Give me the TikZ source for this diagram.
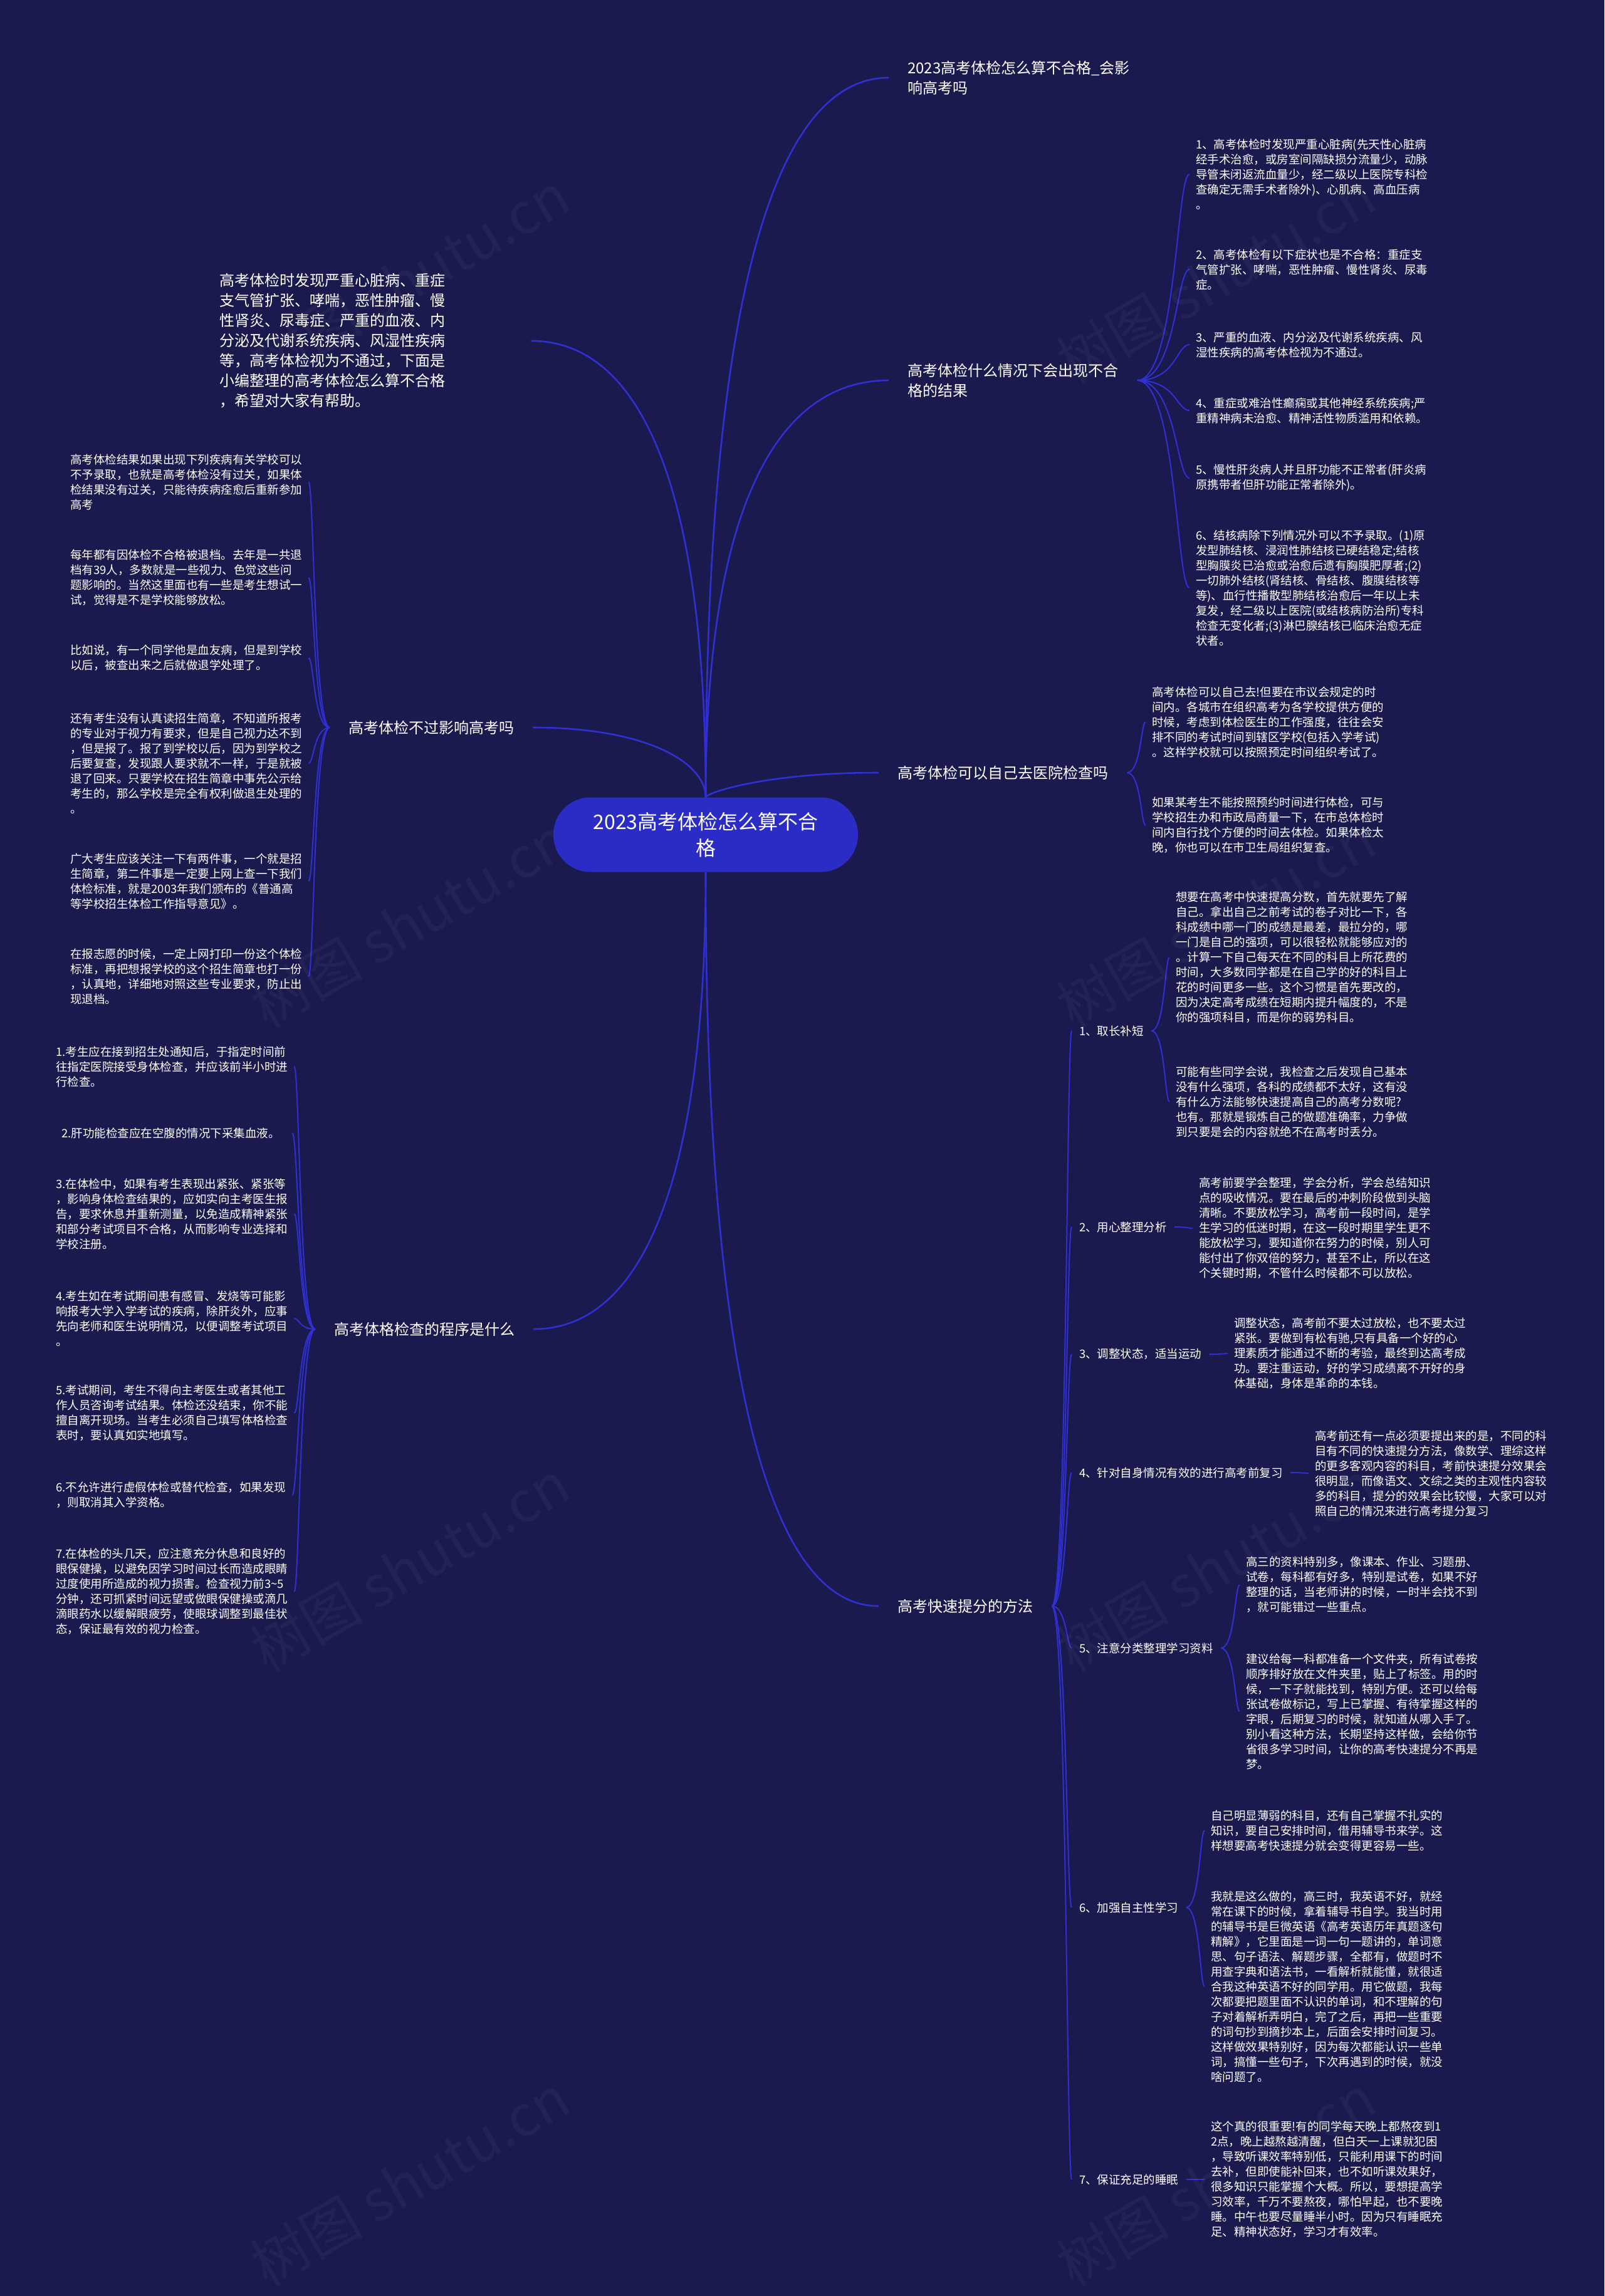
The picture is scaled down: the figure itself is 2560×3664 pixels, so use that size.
\documentclass[tikz,border=0pt]{standalone}
\usepackage{fontspec}
\newfontfamily\cjk{Noto Sans CJK SC}
\usetikzlibrary{calc}
\definecolor{bgnavy}{RGB}{27,26,78}
\definecolor{rootblue}{RGB}{43,43,198}
\definecolor{linkblue}{RGB}{48,48,210}
\pgfdeclarelayer{back}
\pgfsetlayers{back,main}
\tikzset{
  root/.style={fill=rootblue, text=white, rounded corners=59pt, minimum width=486pt,
    minimum height=119pt, align=center, font={\cjk\fontsize{32}{42}\selectfont}},
  branch/.style={anchor=west, text=white, align=left, inner xsep=30pt, inner ysep=4pt,
    font={\cjk\fontsize{24}{32}\selectfont}},
  sub/.style={anchor=west, text=white, align=left, inner xsep=12pt, inner ysep=4pt,
    font={\cjk\fontsize{18.5}{24}\selectfont}},
  leaf/.style={anchor=west, text=white, align=left, inner xsep=10pt, inner ysep=4pt,
    font={\cjk\fontsize{18.5}{24}\selectfont}},
  wmark/.style={text=white, opacity=0.035, rotate=30, font={\cjk\fontsize{90}{90}\selectfont}},
  trunk/.style={draw=linkblue, line width=2.6pt, to path={let \p1=(\tikztostart), \p2=(\tikztotarget) in
    .. controls (\x1,{\y1+0.667*(\y2-\y1)}) and ({\x1+0.333*(\x2-\x1)},\y2) .. (\tikztotarget)}},
  twig/.style={draw=linkblue, line width=2pt, to path={let \p1=(\tikztostart), \p2=(\tikztotarget) in
    .. controls ({\x1+0.75*(\x2-\x1)},\y1) and ({\x1+0.75*(\x2-\x1)},\y2) .. (\tikztotarget)}},
}

\begin{document}
\begin{tikzpicture}[x=1pt,y=-1pt]
\useasboundingbox (0,0) rectangle (2560,3664);

% watermarks
\foreach \wx in {654,1940}
  \foreach \wy in {444,1472,2500,3480}
    \node[wmark] (w\wx\wy) at (\wx,\wy) {树图 shutu.cn};

% centre
\node[root] (root) at (1126,1332) {2023高考体检怎么算不合\\格};

% right side
\node[branch] (r1) at (1418,124) {2023高考体检怎么算不合格\_会影\\响高考吗};

\node[branch] (r2) at (1418,607) {高考体检什么情况下会出现不合\\格的结果};
\node[leaf] (r2a) at (1898,278) {1、高考体检时发现严重心脏病(先天性心脏病\\经手术治愈，或房室间隔缺损分流量少，动脉\\导管未闭返流血量少，经二级以上医院专科检\\查确定无需手术者除外)、心肌病、高血压病\\。};
\node[leaf] (r2b) at (1898,430) {2、高考体检有以下症状也是不合格：重症支\\气管扩张、哮喘，恶性肿瘤、慢性肾炎、尿毒\\症。};
\node[leaf] (r2c) at (1898,550) {3、严重的血液、内分泌及代谢系统疾病、风\\湿性疾病的高考体检视为不通过。};
\node[leaf] (r2d) at (1898,655) {4、重症或难治性癫痫或其他神经系统疾病;严\\重精神病未治愈、精神活性物质滥用和依赖。};
\node[leaf] (r2e) at (1898,763) {5、慢性肝炎病人并且肝功能不正常者(肝炎病\\原携带者但肝功能正常者除外)。};
\node[leaf] (r2f) at (1898,938) {6、结核病除下列情况外可以不予录取。(1)原\\发型肺结核、浸润性肺结核已硬结稳定;结核\\型胸膜炎已治愈或治愈后遗有胸膜肥厚者;(2)\\一切肺外结核(肾结核、骨结核、腹膜结核等\\等)、血行性播散型肺结核治愈后一年以上未\\复发，经二级以上医院(或结核病防治所)专科\\检查无变化者;(3)淋巴腺结核已临床治愈无症\\状者。};

\node[branch] (r3) at (1402,1233) {高考体检可以自己去医院检查吗};
\node[leaf] (r3a) at (1828,1152) {高考体检可以自己去!但要在市议会规定的时\\间内。各城市在组织高考为各学校提供方便的\\时候，考虑到体检医生的工作强度，往往会安\\排不同的考试时间到辖区学校(包括入学考试)\\。这样学校就可以按照预定时间组织考试了。};
\node[leaf] (r3b) at (1828,1317) {如果某考生不能按照预约时间进行体检，可与\\学校招生办和市政局商量一下，在市总体检时\\间内自行找个方便的时间去体检。如果体检太\\晚，你也可以在市卫生局组织复查。};

\node[branch] (r4) at (1402,2563) {高考快速提分的方法};
\node[sub] (s1) at (1710,1645) {1、取长补短};
\node[leaf] (s1a) at (1866,1528) {想要在高考中快速提高分数，首先就要先了解\\自己。拿出自己之前考试的卷子对比一下，各\\科成绩中哪一门的成绩是最差，最拉分的，哪\\一门是自己的强项，可以很轻松就能够应对的\\。计算一下自己每天在不同的科目上所花费的\\时间，大多数同学都是在自己学的好的科目上\\花的时间更多一些。这个习惯是首先要改的，\\因为决定高考成绩在短期内提升幅度的，不是\\你的强项科目，而是你的弱势科目。};
\node[leaf] (s1b) at (1866,1758) {可能有些同学会说，我检查之后发现自己基本\\没有什么强项，各科的成绩都不太好，这有没\\有什么方法能够快速提高自己的高考分数呢?\\也有。那就是锻炼自己的做题准确率，力争做\\到只要是会的内容就绝不在高考时丢分。};
\node[sub] (s2) at (1710,1958) {2、用心整理分析};
\node[leaf] (s2a) at (1903,1960) {高考前要学会整理，学会分析，学会总结知识\\点的吸收情况。要在最后的冲刺阶段做到头脑\\清晰。不要放松学习，高考前一段时间，是学\\生学习的低迷时期，在这一段时期里学生更不\\能放松学习，要知道你在努力的时候，别人可\\能付出了你双倍的努力，甚至不止，所以在这\\个关键时期，不管什么时候都不可以放松。};
\node[sub] (s3) at (1710,2161) {3、调整状态，适当运动};
\node[leaf] (s3a) at (1959,2160) {调整状态，高考前不要太过放松，也不要太过\\紧张。要做到有松有驰,只有具备一个好的心\\理素质才能通过不断的考验，最终到达高考成\\功。要注重运动，好的学习成绩离不开好的身\\体基础，身体是革命的本钱。};
\node[sub] (s4) at (1710,2350) {4、针对自身情况有效的进行高考前复习};
\node[leaf] (s4a) at (2088,2351) {高考前还有一点必须要提出来的是，不同的科\\目有不同的快速提分方法，像数学、理综这样\\的更多客观内容的科目，考前快速提分效果会\\很明显，而像语文、文综之类的主观性内容较\\多的科目，提分的效果会比较慢，大家可以对\\照自己的情况来进行高考提分复习};
\node[sub] (s5) at (1710,2630) {5、注意分类整理学习资料};
\node[leaf] (s5a) at (1978,2529) {高三的资料特别多，像课本、作业、习题册、\\试卷，每科都有好多，特别是试卷，如果不好\\整理的话，当老师讲的时候，一时半会找不到\\，就可能错过一些重点。};
\node[leaf] (s5b) at (1978,2731) {建议给每一科都准备一个文件夹，所有试卷按\\顺序排好放在文件夹里，贴上了标签。用的时\\候，一下子就能找到，特别方便。还可以给每\\张试卷做标记，写上已掌握、有待掌握这样的\\字眼，后期复习的时候，就知道从哪入手了。\\别小看这种方法，长期坚持这样做，会给你节\\省很多学习时间，让你的高考快速提分不再是\\梦。};
\node[sub] (s6) at (1710,3044) {6、加强自主性学习};
\node[leaf] (s6a) at (1922,2921) {自己明显薄弱的科目，还有自己掌握不扎实的\\知识，要自己安排时间，借用辅导书来学。这\\样想要高考快速提分就会变得更容易一些。};
\node[leaf] (s6b) at (1922,3170) {我就是这么做的，高三时，我英语不好，就经\\常在课下的时候，拿着辅导书自学。我当时用\\的辅导书是巨微英语《高考英语历年真题逐句\\精解》，它里面是一词一句一题讲的，单词意\\思、句子语法、解题步骤，全都有，做题时不\\用查字典和语法书，一看解析就能懂，就很适\\合我这种英语不好的同学用。用它做题，我每\\次都要把题里面不认识的单词，和不理解的句\\子对着解析弄明白，完了之后，再把一些重要\\的词句抄到摘抄本上，后面会安排时间复习。\\这样做效果特别好，因为每次都能认识一些单\\词，搞懂一些句子，下次再遇到的时候，就没\\啥问题了。};
\node[sub] (s7) at (1710,3478) {7、保证充足的睡眠};
\node[leaf] (s7a) at (1922,3478) {这个真的很重要!有的同学每天晚上都熬夜到1\\2点，晚上越熬越清醒，但白天一上课就犯困\\，导致听课效率特别低，只能利用课下的时间\\去补，但即使能补回来，也不如听课效果好，\\很多知识只能掌握个大概。所以，要想提高学\\习效率，千万不要熬夜，哪怕早起，也不要晚\\睡。中午也要尽量睡半小时。因为只有睡眠充\\足、精神状态好，学习才有效率。};

% left side
\node[branch, text width=467pt] (l1) at (320,544) {高考体检时发现严重心脏病、重症\\支气管扩张、哮喘，恶性肿瘤、慢\\性肾炎、尿毒症、严重的血液、内\\分泌及代谢系统疾病、风湿性疾病\\等，高考体检视为不通过，下面是\\小编整理的高考体检怎么算不合格\\，希望对大家有帮助。};

\node[branch] (l2) at (526,1161) {高考体检不过影响高考吗};
\node[leaf] (l2a) at (102,769) {高考体检结果如果出现下列疾病有关学校可以\\不予录取，也就是高考体检没有过关，如果体\\检结果没有过关，只能待疾病痊愈后重新参加\\高考};
\node[leaf] (l2b) at (102,922) {每年都有因体检不合格被退档。去年是一共退\\档有39人，多数就是一些视力、色觉这些问\\题影响的。当然这里面也有一些是考生想试一\\试，觉得是不是学校能够放松。};
\node[leaf] (l2c) at (102,1050) {比如说，有一个同学他是血友病，但是到学校\\以后，被查出来之后就做退学处理了。};
\node[leaf] (l2d) at (102,1218) {还有考生没有认真读招生简章，不知道所报考\\的专业对于视力有要求，但是自己视力达不到\\，但是报了。报了到学校以后，因为到学校之\\后要复查，发现跟人要求就不一样，于是就被\\退了回来。只要学校在招生简章中事先公示给\\考生的，那么学校是完全有权利做退生处理的\\。};
\node[leaf] (l2e) at (102,1406) {广大考生应该关注一下有两件事，一个就是招\\生简章，第二件事是一定要上网上查一下我们\\体检标准，就是2003年我们颁布的《普通高\\等学校招生体检工作指导意见》。};
\node[leaf] (l2f) at (102,1558) {在报志愿的时候，一定上网打印一份这个体检\\标准，再把想报学校的这个招生简章也打一份\\，认真地，详细地对照这些专业要求，防止出\\现退档。};

\node[branch] (l3) at (503,2121) {高考体格检查的程序是什么};
\node[leaf] (l3a) at (79,1702) {1.考生应在接到招生处通知后，于指定时间前\\往指定医院接受身体检查，并应该前半小时进\\行检查。};
\node[leaf, text width=367pt, align=center] (l3b) at (79,1808) {2.肝功能检查应在空腹的情况下采集血液。};
\node[leaf] (l3c) at (79,1937) {3.在体检中，如果有考生表现出紧张、紧张等\\，影响身体检查结果的，应如实向主考医生报\\告，要求休息并重新测量，以免造成精神紧张\\和部分考试项目不合格，从而影响专业选择和\\学校注册。};
\node[leaf] (l3d) at (79,2104) {4.考生如在考试期间患有感冒、发烧等可能影\\响报考大学入学考试的疾病，除肝炎外，应事\\先向老师和医生说明情况，以便调整考试项目\\。};
\node[leaf] (l3e) at (79,2255) {5.考试期间，考生不得向主考医生或者其他工\\作人员咨询考试结果。体检还没结束，你不能\\擅自离开现场。当考生必须自己填写体格检查\\表时，要认真如实地填写。};
\node[leaf] (l3f) at (79,2386) {6.不允许进行虚假体检或替代检查，如果发现\\，则取消其入学资格。};
\node[leaf] (l3g) at (79,2540) {7.在体检的头几天，应注意充分休息和良好的\\眼保健操，以避免因学习时间过长而造成眼睛\\过度使用所造成的视力损害。检查视力前3\textasciitilde5\\分钟，还可抓紧时间远望或做眼保健操或滴几\\滴眼药水以缓解眼疲劳，使眼球调整到最佳状\\态，保证最有效的视力检查。};

\begin{pgfonlayer}{back}
  \fill[bgnavy] (0,0) rectangle (2560,3664);
  % main branches
  \foreach \b in {r1,r2,r3,r4}
    \draw[trunk] (root) to (\b.west);
  \foreach \b in {l1,l2,l3}
    \draw[trunk] (root) to (\b.east);
  % children
  \foreach \k in {a,b,c,d,e,f}
    \draw[twig] (r2.east) to (r2\k.west);
  \foreach \k in {a,b}
    \draw[twig] (r3.east) to (r3\k.west);
  \foreach \k in {1,...,7}
    \draw[twig] (r4.east) to (s\k.west);
  \foreach \k in {1,5,6}
    \draw[twig] (s\k.east) to (s\k a.west) (s\k.east) to (s\k b.west);
  \foreach \k in {2,3,4,7}
    \draw[twig] (s\k.east) to (s\k a.west);
  \foreach \k in {a,b,c,d,e,f}
    \draw[twig] (l2.west) to (l2\k.east);
  \foreach \k in {a,b,c,d,e,f,g}
    \draw[twig] (l3.west) to (l3\k.east);
\end{pgfonlayer}
\end{tikzpicture}
\end{document}
